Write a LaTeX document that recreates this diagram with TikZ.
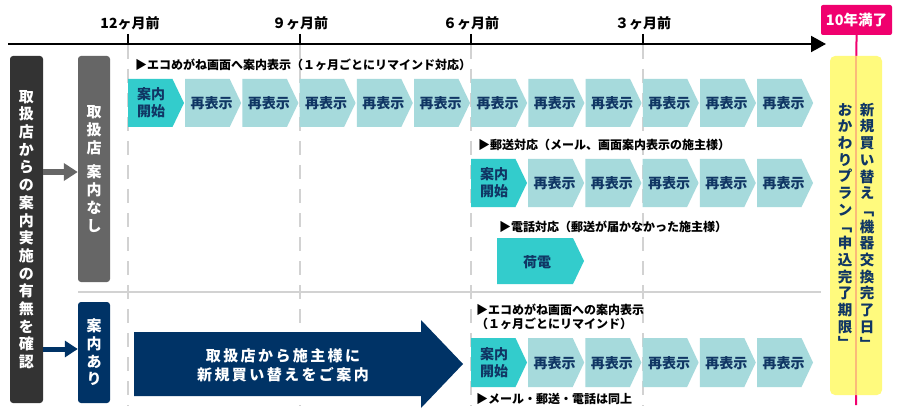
\documentclass[tikz,border=0pt]{standalone}
\usepackage{fontspec}
\setmainfont{Noto Sans CJK JP}
\usetikzlibrary{arrows.meta}
\definecolor{navy}{RGB}{0,51,102}
\definecolor{navytxt}{RGB}{16,54,100}
\definecolor{teal1}{RGB}{51,204,204}
\definecolor{teal2}{RGB}{166,218,220}
\definecolor{dgrey}{RGB}{51,51,51}
\definecolor{mgrey}{RGB}{102,102,102}
\definecolor{lgrey}{RGB}{210,210,210}
\definecolor{pinkc}{RGB}{240,0,110}
\definecolor{yel}{RGB}{255,250,125}
\newcommand{\chevshape}[4]{\fill[#4] (#1,#2) -- ++(44.5,0) -- ++(11.5,{(#3-#2)/2}) -- ++(-11.5,{(#3-#2)/2}) -- (#1,#3) -- cycle;}
\tikzset{
  ctext/.style={text=navytxt, font=\fontsize{14}{17}\selectfont\bfseries, align=center, inner sep=0pt},
  anno/.style={anchor=west, font=\fontsize{12}{14}\selectfont\bfseries, align=left, inner sep=0pt},
  tlab/.style={font=\fontsize{14}{16}\selectfont\bfseries, inner sep=0pt},
  gridline/.style={lgrey, line width=2pt, dash pattern=on 14pt off 10pt},
  sepline/.style={lgrey, line width=2pt},
  tickline/.style={black, line width=1.5pt},
  vbox/.style={rounded corners=3pt, text=white, align=center, inner sep=0pt,
     font=\fontsize{15}{17.7}\selectfont\bfseries},
  ytext/.style={text=navytxt, align=center, inner sep=0pt, font=\fontsize{14.5}{16.7}\selectfont\bfseries},
}
\begin{document}
\begin{tikzpicture}[x=1pt,y=-1pt]
\useasboundingbox (0,0) rectangle (900,417);
\fill[white] (0,0) rectangle (900,417);
% grid lines
\foreach \gx in {128,300,471,643} {
  \draw[gridline] (\gx,45) -- (\gx,406);
  \draw[tickline] (\gx,34) -- (\gx,44.5);
}
\draw[sepline] (78,292) -- (821,292);
% timeline
\coordinate (tlstart) at (8,44);
\coordinate (tlend) at (826,44);
\draw[line width=2pt, -{Triangle[length=15pt,width=16pt]}] (tlstart) -- (tlend);
\node[tlab] (m12) at (130,23) {12ヶ月前};
\node[tlab] (m9) at (300,23) {９ヶ月前};
\node[tlab] (m6) at (471,23) {６ヶ月前};
\node[tlab] (m3) at (643,23) {３ヶ月前};
% pink marker
\node[fill=pinkc, rounded corners=2pt, minimum width=71pt, minimum height=30pt, inner sep=0pt,
  text=white, font=\fontsize{14.5}{16}\selectfont\bfseries] (ten) at (856.5,20) {10年満了};
\coordinate (pinkend) at (856,405);
\draw[pinkc, line width=2pt] (ten.south) -- (pinkend);
% yellow box
\node[fill=yel, rounded corners=5pt, minimum width=52pt, minimum height=339pt, inner sep=0pt] (yb) at (856,225.5) {};
\draw[pinkc!25!yel, line width=2pt] (856,56.5) -- (856,394.5);
\node[ytext] (ycol1) at (867,226) {新\\規\\買\\い\\替\\え\\﹁\\機\\器\\交\\換\\完\\了\\日\\﹂};
\node[ytext] (ycol2) at (845,226) {お\\か\\わ\\り\\プ\\ラ\\ン\\﹁\\申\\込\\完\\了\\期\\限\\﹂};
% left boxes
\node[vbox, fill=dgrey, minimum width=33pt, minimum height=347pt] (src) at (26.5,229.5)
  {取\\扱\\店\\か\\ら\\の\\案\\内\\実\\施\\の\\有\\無\\を\\確\\認};
\node[vbox, fill=mgrey, minimum width=32pt, minimum height=226pt] (nobox) at (94,169)
  {取\\扱\\店\\[7pt]案\\内\\な\\し};
\node[vbox, fill=navy, minimum width=32pt, minimum height=101pt] (yesbox) at (94,352.5)
  {案\\内\\あ\\り};
\draw[mgrey, line width=6pt, -{Triangle[length=14pt,width=17pt]}] (src.east |- 0,172) -- (nobox.west |- 0,172);
\draw[navy, line width=5pt, -{Triangle[length=13pt,width=16pt]}] (src.east |- 0,349) -- (yesbox.west |- 0,349);
% row 1
\node[anno] (a1) at (135,65) {▶エコめがね画面へ案内表示（１ヶ月ごとにリマインド対応）};
\chevshape{128}{79}{127}{teal1}
\node[ctext] (r1c0) at (151,103) {案内\\開始};
\foreach \k in {1,...,11} {
  \pgfmathsetmacro\xx{128+57.2*\k}
  \chevshape{\xx}{79}{127}{teal2}
  \node[ctext] (r1c\k) at (\xx+26.5,103.5) {再表示};
}
% row 2
\node[anno] (a2) at (478,145) {▶郵送対応（メール、画面案内表示の施主様）};
\chevshape{471}{159}{207}{teal1}
\node[ctext] (r2c0) at (494,183) {案内\\開始};
\foreach \k in {1,...,5} {
  \pgfmathsetmacro\xx{471+57.2*\k}
  \chevshape{\xx}{159}{207}{teal2}
  \node[ctext] (r2c\k) at (\xx+26.5,183.5) {再表示};
}
% row 3
\node[anno] (a3) at (499,227) {▶電話対応（郵送が届かなかった施主様）};
\fill[teal1] (497,238) -- (573,238) -- (584,261) -- (573,284) -- (497,284) -- cycle;
\node[ctext] (r3c0) at (537,262) {荷電};
% row 4
\node[anno] (a4) at (476,317) {▶エコめがね画面への案内表示\\（１ヶ月ごとにリマインド）};
\chevshape{471}{338}{387}{teal1}
\node[ctext] (r4c0) at (494,362.5) {案内\\開始};
\foreach \k in {1,...,5} {
  \pgfmathsetmacro\xx{471+57.2*\k}
  \chevshape{\xx}{338}{387}{teal2}
  \node[ctext] (r4c\k) at (\xx+26.5,363) {再表示};
}
\node[anno] (a5) at (476,399) {▶メール・郵送・電話は同上};
% big arrow
\fill[navy] (134,332) -- (421,332) -- (421,320) -- (463,364) -- (421,408) -- (421,396) -- (134,396) -- cycle;
\node[text=white, align=center, inner sep=0pt, font=\fontsize{15}{19}\selectfont\bfseries\addfontfeature{LetterSpace=16}] (bigtext) at (283,365)
  {取扱店から施主様に\\新規買い替えをご案内};
\end{tikzpicture}
\end{document}
